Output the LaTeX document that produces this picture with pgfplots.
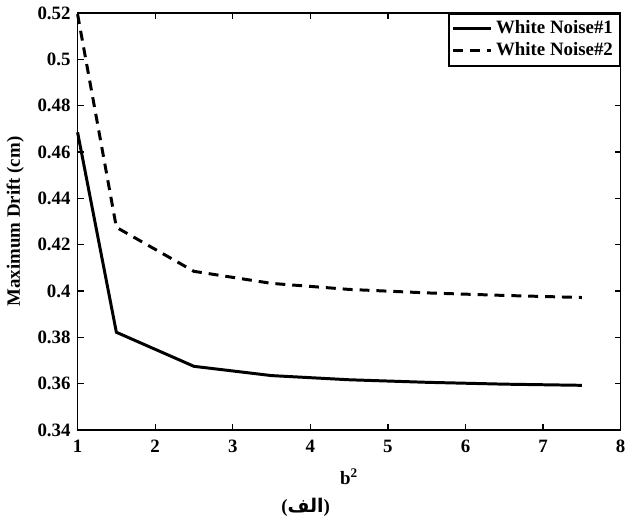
\documentclass[border=0pt]{standalone}
\usepackage{pgfplots}
\pgfplotsset{compat=1.18}
\usepackage{fontspec}
\setmainfont{Liberation Serif}
\newfontfamily\arabicfont[Script=Arabic]{DejaVu Sans}
\TeXXeTstate=1
\begin{document}
\begin{tikzpicture}
\begin{axis}[
    scale only axis,
    width=273.5pt, height=210pt,
    xmin=1, xmax=8, ymin=0.34, ymax=0.52,
    clip=false,
    xtick={1,2,3,4,5,6,7,8},
    ytick={0.34,0.36,0.38,0.4,0.42,0.44,0.46,0.48,0.5,0.52},
    tick align=inside,
    major tick length=3pt,
    axis line style={line width=0.8pt},
    every tick/.style={black, line width=0.6pt},
    /pgf/number format/assume math mode=true,
    tick label style={font=\bfseries\fontsize{9.5}{10}\selectfont},
    xticklabel style={yshift=-1.5pt},
    label style={font=\bfseries\fontsize{9.5}{10}\selectfont},
    xlabel={b\textsuperscript{2}},
    ylabel={Maximum Drift (cm)},
    xlabel style={yshift=-1pt},
    legend style={at={(1,1)}, anchor=north east, draw=black, line width=0.8pt,
      font=\bfseries\fontsize{9.5}{10}\selectfont, inner sep=1.5pt, row sep=-1pt},
    legend cell align=left,
    legend image post style={xscale=1.1},
  ]
  \addplot[black, line width=1.5pt] coordinates {
    (1,0.4685)(1.5,0.3822)(2.5,0.3675)(3.5,0.3635)(4.5,0.3617)(5.5,0.3606)(6.5,0.3598)(7.5,0.3593)};
  \addplot[black, line width=1.5pt, dash pattern=on 5pt off 3.5pt] coordinates {
    (1,0.5195)(1.5,0.4275)(2.5,0.4085)(3.5,0.4033)(4.5,0.4007)(5.5,0.3992)(6.5,0.3981)(7.5,0.3972)};
  \legend{White Noise\#1, White Noise\#2}
  \node[font=\bfseries\fontsize{9.5}{10}\selectfont] at (rel axis cs:0.42,-0.186)
    {({\arabicfont\beginR الف\endR})};
  \path (rel axis cs:0.5,-0.212);
\end{axis}
\end{tikzpicture}
\end{document}
